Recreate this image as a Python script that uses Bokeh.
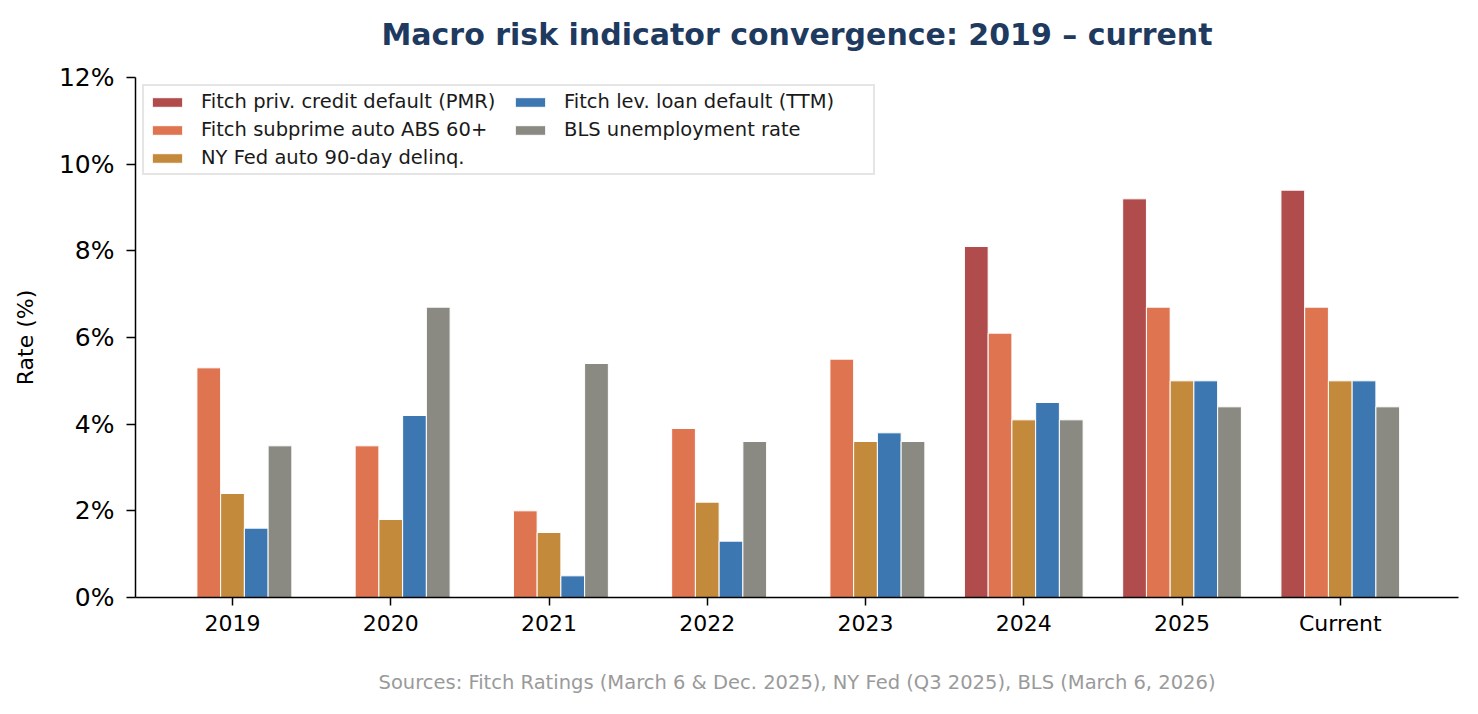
import numpy as np
from bokeh.plotting import figure
from bokeh.models import (Range1d, FixedTicker, PrintfTickFormatter, Legend,
                          LegendItem, Title, ColumnDataSource)
from bokeh.transform import dodge
from bokeh.embed import file_html
from bokeh.resources import INLINE

nan = float("nan")
categories = ["2019", "2020", "2021", "2022", "2023", "2024", "2025", "Current"]
pmr_default = [nan, nan, nan, nan, nan, 8.1, 9.2, 9.4]
subprime_abs = [5.3, 3.5, 2.0, 3.9, 5.5, 6.1, 6.7, 6.7]
nyfed_auto = [2.4, 1.8, 1.5, 2.2, 3.6, 4.1, 5.0, 5.0]
levloan_default = [1.6, 4.2, 0.5, 1.3, 3.8, 4.5, 5.0, 5.0]
unemployment = [3.5, 6.7, 5.4, 3.6, 3.6, 4.1, 4.4, 4.4]
series_labels = ["Fitch priv. credit default (PMR)", "Fitch subprime auto ABS 60+",
                 "NY Fed auto 90-day delinq.", "Fitch lev. loan default (TTM)",
                 "BLS unemployment rate"]
series_colors = ["#b04c4c", "#df7550", "#c48a3b", "#3c77b2", "#8a8a82"]
y_ticks = [0, 2, 4, 6, 8, 10, 12]
title_text = "Macro risk indicator convergence: 2019 \u2013 current"
source_text = "Sources: Fitch Ratings (March 6 & Dec. 2025), NY Fed (Q3 2025), BLS (March 6, 2026)"

FONT = "DejaVu Sans"
series_values = [pmr_default, subprime_abs, nyfed_auto, levloan_default, unemployment]

source = ColumnDataSource(data=dict(
    x=list(range(len(categories))),
    s0=pmr_default, s1=subprime_abs, s2=nyfed_auto, s3=levloan_default, s4=unemployment,
))

p = figure(width=1462, height=698, output_backend="svg", toolbar_location=None,
           title=None,
           x_range=Range1d(-0.613, 7.747), y_range=Range1d(0, 12),
           min_border_left=135, min_border_right=4, min_border_top=77,
           min_border_bottom=101)

bar_w = 0.15
renderers = []
for j in range(len(series_values)):
    r = p.vbar(x=dodge("x", (j - 2) * bar_w, range=p.x_range), top="s%d" % j,
               width=bar_w, bottom=0, source=source, fill_color=series_colors[j],
               line_color="white", line_width=1)
    renderers.append(r)

p.xgrid.grid_line_color = None
p.ygrid.grid_line_color = None
p.outline_line_color = None

xa = p.xaxis[0]
xa.ticker = FixedTicker(ticks=list(range(len(categories))))
xa.major_label_overrides = {i: c for i, c in enumerate(categories)}
xa.major_label_text_font = FONT
xa.major_label_text_font_size = "22px"
xa.major_label_text_color = "black"
xa.major_tick_in = 0
xa.major_tick_out = 8
xa.minor_tick_line_color = None
xa.axis_line_width = 1.5
xa.major_tick_line_width = 1.5
xa.major_label_standoff = 5

ya = p.yaxis[0]
ya.ticker = FixedTicker(ticks=y_ticks)
ya.formatter = PrintfTickFormatter(format="%d%%")
ya.major_label_text_font = FONT
ya.major_label_text_font_size = "25px"
ya.major_label_text_color = "black"
ya.major_tick_in = 0
ya.major_tick_out = 9
ya.minor_tick_line_color = None
ya.axis_line_width = 1.5
ya.major_tick_line_width = 1.5
ya.major_label_standoff = 12
ya.axis_label = "Rate (%)"
ya.axis_label_text_font = FONT
ya.axis_label_text_font_size = "22px"
ya.axis_label_text_font_style = "normal"
ya.axis_label_text_color = "black"
ya.axis_label_standoff = 18

# white spacer between frame and title, then the title itself (outermost)
p.add_layout(Title(text=".", text_font_size="6px", text_color="white", standoff=20), "above")
p.add_layout(Title(text=title_text, align="center", text_font=FONT,
                   text_font_size="30px", text_font_style="bold",
                   text_color="#1f3a5f", standoff=0), "above")

# white spacer below the x axis, then the sources line
p.add_layout(Title(text=".", text_font_size="6px", text_color="white", standoff=24), "below")
p.add_layout(Title(text=source_text, align="center", text_font=FONT,
                   text_font_size="19.5px", text_font_style="normal",
                   text_color="#9a9a9a", standoff=0), "below")

legend = Legend(items=[LegendItem(label=series_labels[j], renderers=[renderers[j]])
                       for j in range(len(series_labels))],
                location="top_left", nrows=3, orientation="vertical",
                label_text_font=FONT, label_text_font_size="19.5px",
                label_text_color="#1a1a1a",
                glyph_width=38, glyph_height=12, label_standoff=15,
                label_height=21, label_width=305, spacing=5, padding=4, margin=7,
                border_line_color="#cccccc", border_line_width=2,
                background_fill_alpha=0.85)
p.add_layout(legend)

open("out.html", "w").write(file_html(p, INLINE))
